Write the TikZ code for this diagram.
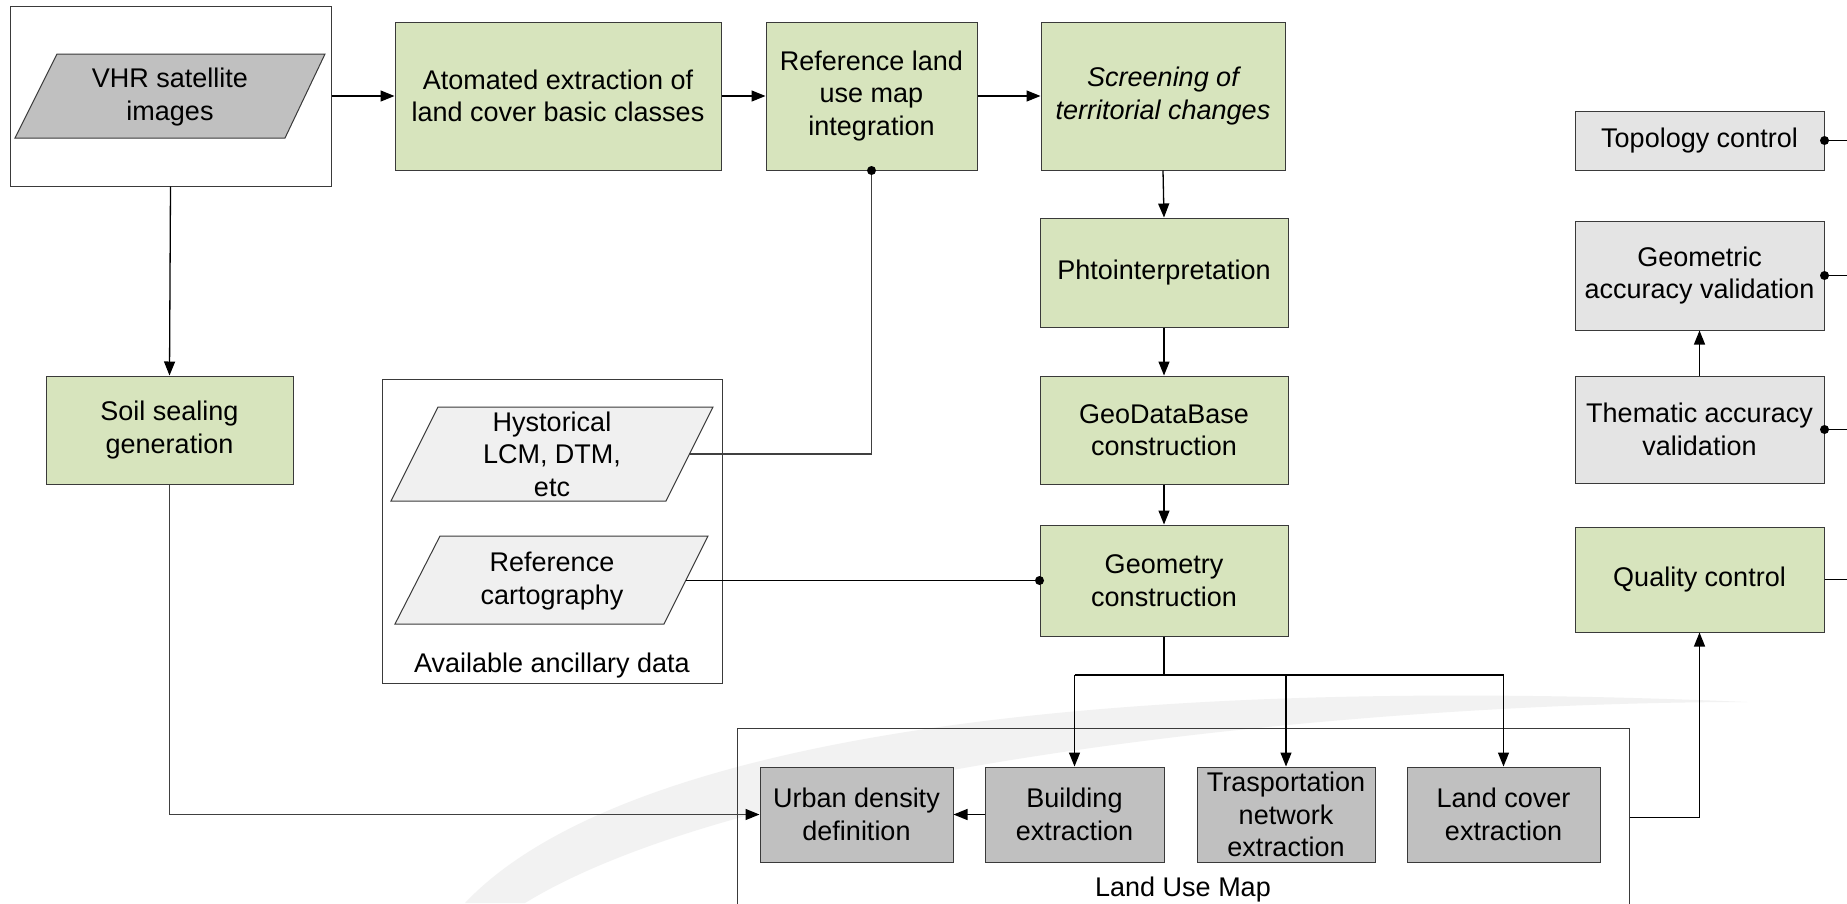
\documentclass[tikz,border=0pt]{standalone}
\usepackage{fontspec}
\setmainfont{Liberation Sans}
\usetikzlibrary{arrows.meta}
\definecolor{boxgreen}{HTML}{D7E4BD}
\definecolor{boxgray}{HTML}{C0C0C0}
\definecolor{boxlight}{HTML}{E4E4E4}
\definecolor{paralight}{HTML}{F0F0F0}
\definecolor{edgecol}{HTML}{3A3A3A}
\definecolor{swooshcol}{HTML}{F2F2F2}
\definecolor{linegray}{HTML}{404040}
\begin{document}
\begin{tikzpicture}[x=1pt,y=-1pt,
  every node/.style={font=\fontsize{27}{32.5}\selectfont, align=center, inner sep=0pt},
  sz/.style 2 args={minimum width=#1pt, minimum height=#2pt},
  box/.style={draw=edgecol, line width=1pt, rectangle},
  gbox/.style={box, fill=boxgreen},
  dbox/.style={box, fill=boxgray},
  lbox/.style={box, fill=boxlight},
  wbox/.style={box, fill=white},
  conn/.style={line width=1.3pt, draw=black},
  arr/.style={conn, -{Triangle[length=14pt,width=11pt,color=black]}},
  para/.style={draw=edgecol, line width=1pt},
  dot/.style={fill=black}
]
\useasboundingbox (0,0) rectangle (1847,903);
\fill[white] (0,0) rectangle (1847,903);

% background swoosh
\fill[swooshcol] (465,903) .. controls (600,760) and (1000,670) .. (1747,702)
  .. controls (1350,702) and (750,765) .. (525,903) -- cycle;

% VHR group
\node[wbox, sz={321}{180}] (vhrbox) at (170.5,96) {};
\filldraw[para, fill=boxgray] (57,54) -- (325,54) -- (285,138) -- (15,138) -- cycle;
\node (vhr) at (170,97) {VHR satellite\\images};

% top row
\node[gbox, sz={326}{148}] (auto) at (558,96) {Atomated extraction of\\land cover basic classes};
\node[gbox, sz={211}{148}] (refmap) at (871.5,96) {Reference land\\use map\\integration};
\node[gbox, sz={244}{148}, font=\fontsize{27}{32.5}\selectfont\itshape] (screen) at (1163,96) {Screening of\\territorial changes};

% central column
\node[gbox, sz={248}{109}] (phto) at (1164,272.5) {Phtointerpretation};
\node[gbox, sz={248}{108}] (geodb) at (1164,430) {GeoDataBase\\construction};
\node[gbox, sz={248}{111}] (geom) at (1164,580.5) {Geometry\\construction};

% soil sealing
\node[gbox, sz={247}{108}] (soil) at (169.5,430) {Soil sealing\\generation};

% ancillary data
\node[wbox, sz={340}{304}] (anc) at (552,531) {};
\node (anclabel) at (552,666) {Available ancillary data};
\filldraw[para, fill=paralight] (438,407) -- (713,407) -- (666,501) -- (391,501) -- cycle;
\node (hyst) at (552,454) {Hystorical\\LCM, DTM,\\etc};
\coordinate (hystR) at (689,454);
\filldraw[para, fill=paralight] (440,536) -- (708,536) -- (664,624) -- (395,624) -- cycle;
\node (refc) at (552,581) {Reference\\cartography};
\coordinate (refcR) at (686,580.5);

% land use map
\node[box, sz={892}{187}] (landuse) at (1183,821.5) {};
\node (lulabel) at (1183,890) {Land Use Map};
\node[dbox, sz={193}{95}] (urban) at (856.5,814.5) {Urban density\\definition};
\node[dbox, sz={179}{95}] (build) at (1074.5,814.5) {Building\\extraction};
\node[dbox, sz={178}{95}] (trasp) at (1286,814.5) {Trasportation\\network\\extraction};
\node[dbox, sz={193}{95}] (landcov) at (1503.5,814.5) {Land cover\\extraction};

% right column
\node[lbox, sz={249}{59}] (topo) at (1699.5,140.5) {Topology control};
\node[lbox, sz={249}{109}] (geomacc) at (1699.5,275.5) {Geometric\\accuracy validation};
\node[lbox, sz={249}{107}] (themacc) at (1699.5,429.5) {Thematic accuracy\\validation};
\node[gbox, sz={249}{105}] (quality) at (1699.5,579.5) {Quality control};

% connectors
\draw[arr] (vhrbox.east) -- (auto.west);
\draw[arr] (auto) -- (refmap);
\draw[arr] (refmap) -- (screen);
\draw[arr] (screen.south) -- (phto.north);
\draw[arr] (phto) -- (geodb);
\draw[arr] (geodb) -- (geom);
\draw[arr] (vhrbox.south) -- (soil.north);

\draw[conn, draw=linegray] (hystR) -| (refmap.south);
\fill[dot] (refmap.south) circle (4.5);
\draw[conn] (refcR) -- (geom.west);
\fill[dot] (geom.west) circle (4.5);

\coordinate (split) at (1164,675);
\draw[conn] (geom.south) -- (split);
\draw[conn] (build.north |- split) -- (landcov.north |- split);
\draw[arr] (build.north |- split) -- (build.north);
\draw[arr] (trasp.north |- split) -- (trasp.north);
\draw[arr] (landcov.north |- split) -- (landcov.north);

\draw[arr, draw=linegray] (soil.south) |- (urban.west);
\draw[arr] (build.west) -- (urban.east);
\draw[arr] ([yshift=-90pt]landuse.north east) -| (quality.south);
\draw[arr] (themacc.north) -- (geomacc.south);

\draw[conn] (topo.east) -- ++(40,0);
\fill[dot] (topo.east) circle (4.5);
\draw[conn] (geomacc.east) -- ++(40,0);
\fill[dot] (geomacc.east) circle (4.5);
\draw[conn] (themacc.east) -- ++(40,0);
\fill[dot] (themacc.east) circle (4.5);
\draw[conn] (quality.east) -- ++(40,0);
\end{tikzpicture}
\end{document}
